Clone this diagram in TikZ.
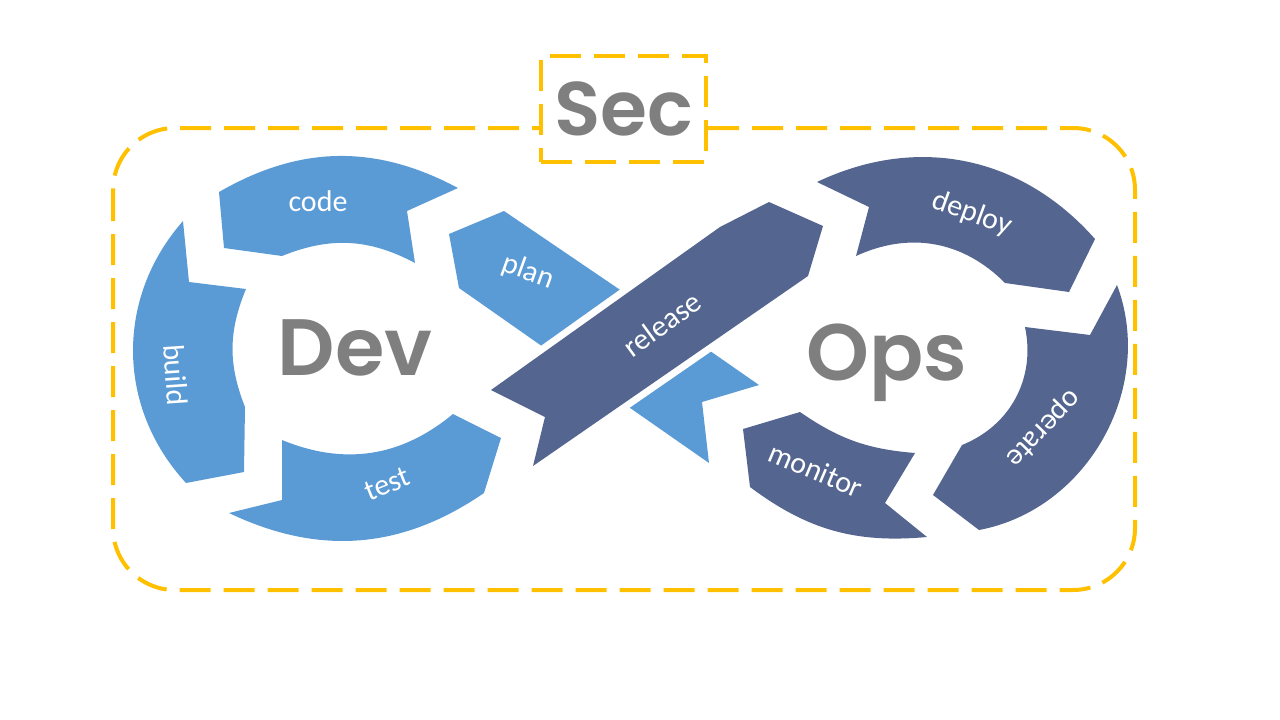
\documentclass[tikz,border=0pt]{standalone}
\usepackage{fontspec}
\setmainfont{Carlito}
\newfontfamily\gothicfont{Poppins}[BoldFont={Poppins SemiBold}]

\definecolor{devblue}{HTML}{5B9BD5}
\definecolor{opsblue}{HTML}{546690}
\definecolor{secgold}{HTML}{FFC000}
\definecolor{wordgray}{HTML}{7F7F7F}

\begin{document}
\begin{tikzpicture}[x=1pt, y=-1pt,
            dev/.style={fill=devblue},
            ops/.style={fill=opsblue},
            gap/.style={preaction={draw=white, line width=14pt, line join=round}},
            lab/.style={text=white, font=\fontsize{30}{36}\selectfont},
            big/.style={text=wordgray, font=\gothicfont\bfseries\fontsize{80}{92}\selectfont},
            secline/.style={draw=secgold, line width=4pt, dash pattern=on 31pt off 13pt}
        ]
        \useasboundingbox (0,0) rectangle (1280,720);

        % Frame
        \draw[secline, rounded corners=62pt] (113,128) rectangle (1135,590);
        \node[secline, fill=white, minimum width=165pt, minimum height=106pt, inner sep=0pt,
              big, font=\gothicfont\bfseries\fontsize{76}{88}\selectfont] (sec) at (623.5,109) {Sec};

        % Dev loop
        \fill[dev] (219,192) to[bend left=29] (458,188) -- (407,211) -- (415,263)
            to[bend right=25] (282,256) -- (224,248) -- cycle;
        \fill[dev] (186,483) to[bend left=42] (183,221) -- (189,282) -- (246,289)
            to[bend right=22] (245,407) -- (244,472) -- cycle;
        \fill[dev] (453,414) to[bend left=31] (282,440) -- (282,500) -- (229,513)
            to[bend right=30] (484,493) -- (501,438) -- cycle;
        \fill[dev] (449,234) -- (504,211) -- (713,353) -- (759,385) -- (702,402)
            -- (709,463) -- (633,410) -- (459,288) -- cycle;

        % Release crosses over plan
        \fill[ops, gap] (491,390) -- (720,227) -- (769,202) -- (823,226) -- (808,276)
            -- (533,466) -- (545,417) -- cycle;

        % Ops loop
        \fill[ops] (817,182) to[bend left=37] (1095,239) -- (1069,292) -- (1005,283)
            to[bend right=35] (856,256) -- (869,207) -- cycle;
        \fill[ops] (1117,285) to[bend left=50] (979,530) -- (933,495) -- (962,445)
            to[bend right=40] (1025,327) -- (1090,335) -- cycle;
        \fill[ops] (927,537) to[bend left=21] (750,487) -- (743,429) -- (800,412)
            to[bend right=15] (915,453) -- (885,503) -- cycle;

        % Labels
        \node[lab] (code) at (318,201) {code};
        \node[lab, rotate=-20] (plan) at (528,272) {plan};
        \node[lab, rotate=-86] (build) at (176,375) {build};
        \node[lab, rotate=22] (test) at (387,484) {test};
        \node[lab, rotate=36] (release) at (662,324) {release};
        \node[lab, rotate=-20] (deploy) at (972,214) {deploy};
        \node[lab, rotate=-134] (operate) at (1043,428) {operate};
        \node[lab, rotate=-23] (monitor) at (816,470) {monitor};

        \node[big, anchor=base] (dev) at (355,375) {Dev};
        \node[big, anchor=base] (ops) at (887,380) {Ops};

\end{tikzpicture}
\end{document}
